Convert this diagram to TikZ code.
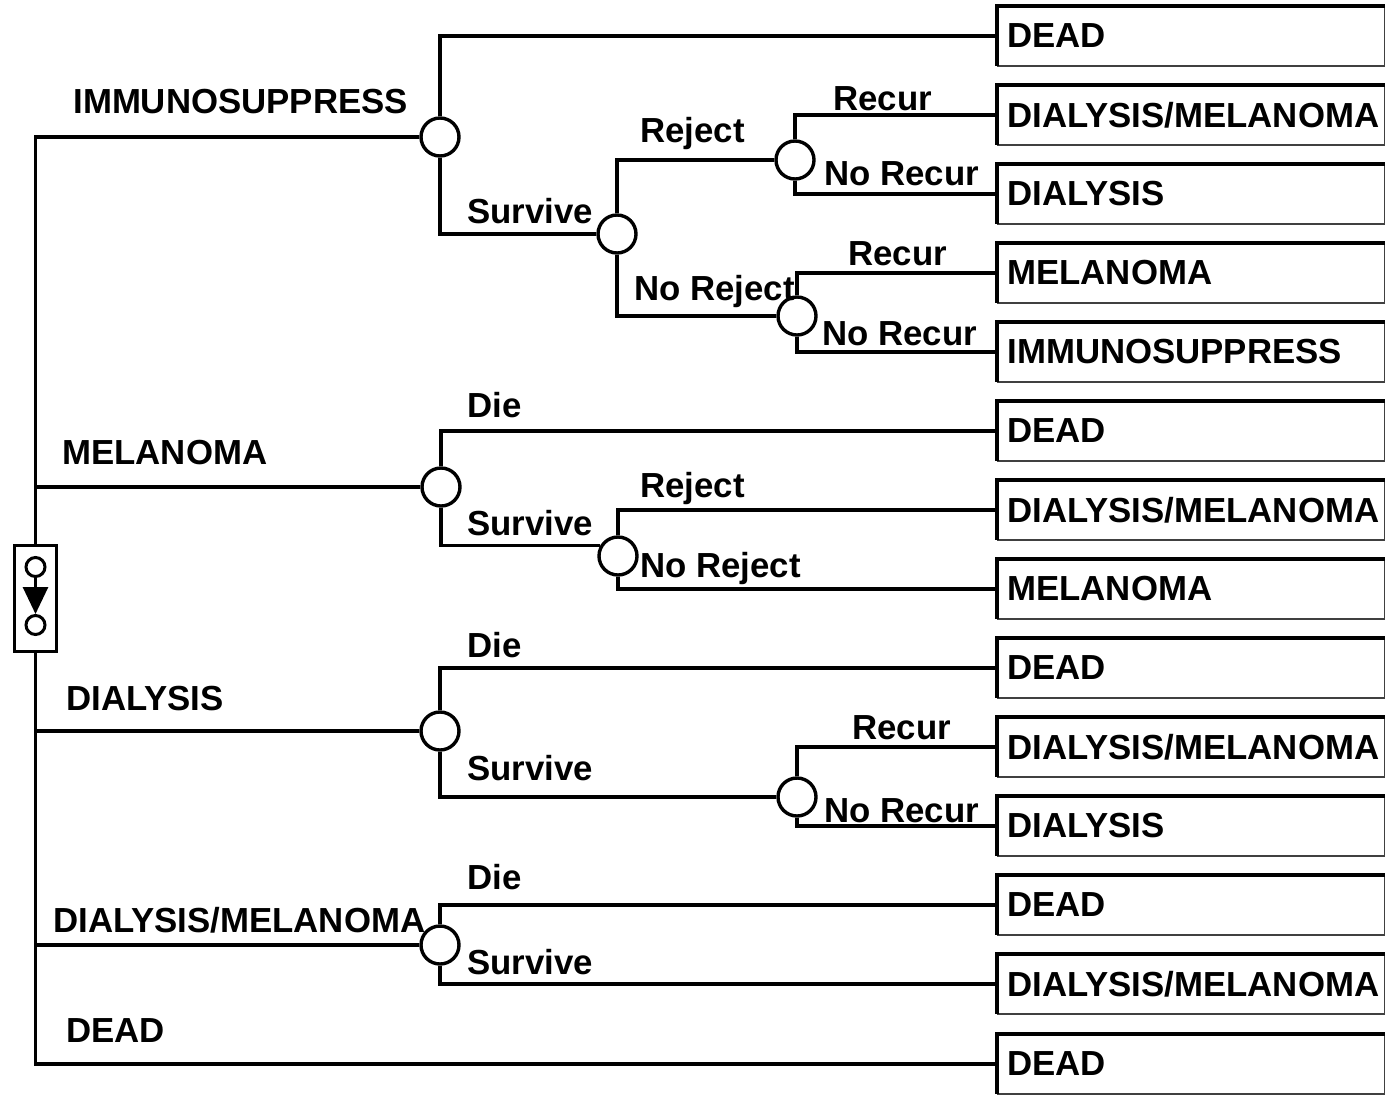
\documentclass[tikz,border=0pt]{standalone}
\usepackage{fontspec}
\setmainfont{Liberation Sans}
\usetikzlibrary{arrows.meta}
\newcommand{\dialmel}{DIALYSIS/MELANOMA}

\begin{document}
\begin{tikzpicture}[x=0.2mm,y=-0.2mm,
    every node/.style={font=\bfseries\fontsize{19.8}{23}\selectfont},
    branch/.style={line width=0.68mm},
    chance/.style={circle,draw,line width=0.68mm,fill=white,minimum size=7.6mm,inner sep=0pt},
    mstate/.style={circle,draw,line width=0.6mm,fill=white,minimum size=3.8mm,inner sep=0pt},
    lbl/.style={anchor=base west,inner sep=0pt},
    term/.style={anchor=west,minimum height=11.8mm,text width=73.4mm,inner xsep=2mm,inner ysep=0pt,align=left}]
    \useasboundingbox (0,0) rectangle (1386,1095);

    \foreach \y/\txt [count=\i] in {36/DEAD,115/\dialmel,194/DIALYSIS,273/MELANOMA,352/IMMUNOSUPPRESS,
        431/DEAD,510/\dialmel,589/MELANOMA,668/DEAD,747/\dialmel,826/DIALYSIS,905/DEAD,984/\dialmel,1064/DEAD}
    {
        \node[term] (t\i) at (997,\y) {\txt};
        \draw[line width=0.3mm,black!75] (t\i.north east) -- (t\i.south east) -- (t\i.south west);
        \draw[line width=0.68mm] (t\i.south west) -- (t\i.north west) -- (t\i.north east);
    }

    \node[chance] (imm) at (440,137) {};
    \node[chance] (imms) at (617,234) {};
    \node[chance] (immrj) at (795,160) {};
    \node[chance] (immnr) at (797,316) {};
    \node[chance] (mel) at (441,487) {};
    \node[chance] (mels) at (618,556) {};
    \node[chance] (dial) at (440,731) {};
    \node[chance] (dials) at (797,797) {};
    \node[chance] (dm) at (440,945) {};

    \node[draw,fill=white,line width=0.68mm,minimum width=8.4mm,minimum height=21.2mm,inner sep=0pt] (mk) at (35.5,598.5) {};
    \node[mstate] (mk1) at (35.5,567) {};
    \node[mstate] (mk2) at (35.5,625) {};
    \draw[line width=0.55mm,-{Triangle[length=5.4mm,width=5mm]}] (mk1) -- (mk2);

    \draw[branch] (imm) -| (mk.north);
    \draw[branch] (mk.south) |- (t14);
    \draw[branch] (mel) -- (mel -| mk.north);
    \draw[branch] (dial) -- (dial -| mk.north);
    \draw[branch] (dm) -- (dm -| mk.north);

    \draw[branch] (imm.north) |- (t1);
    \draw[branch] (imm.south) |- (imms);
    \draw[branch] (imms.north) |- (immrj);
    \draw[branch] (imms.south) |- (immnr);
    \draw[branch] (immrj.north) |- (t2);
    \draw[branch] (immrj.south) |- (t3);
    \draw[branch] (immnr.north) |- (t4);
    \draw[branch] (immnr.south) |- (t5);
    \draw[branch] (mel.north) |- (t6);
    \draw[branch] (mel.south) |- (mels.150);
    \draw[branch] (mels.north) |- (t7);
    \draw[branch] (mels.south) |- (t8);
    \draw[branch] (dial.north) |- (t9);
    \draw[branch] (dial.south) |- (dials);
    \draw[branch] (dials.north) |- (t10);
    \draw[branch] (dials.south) |- (t11);
    \draw[branch] (dm.north) |- (t12);
    \draw[branch] (dm.south) |- (t13);

    \node[lbl] (limm) at (73,113) {IMMUNOSUPPRESS};
    \node[lbl] (lmel) at (62,464) {MELANOMA};
    \node[lbl] (ldial) at (66,710) {DIALYSIS};
    \node[lbl] (ldm) at (53,932) {\dialmel};
    \node[lbl] (ldead) at (66,1042) {DEAD};

    \node[lbl] (simm) at (467,223) {Survive};
    \node[lbl] (rimm) at (640,142) {Reject};
    \node[lbl] (nrimm) at (634,300) {No Reject};
    \node[lbl] (rc1) at (833,110) {Recur};
    \node[lbl] (nrc1) at (824,185) {No Recur};
    \node[lbl] (rc2) at (848,265) {Recur};
    \node[lbl] (nrc2) at (822,345) {No Recur};
    \node[lbl] (dmel) at (467,417) {Die};
    \node[lbl] (smel) at (467,535) {Survive};
    \node[lbl] (rmel) at (640,497) {Reject};
    \node[lbl] (nrmel) at (640,577) {No Reject};
    \node[lbl] (ddial) at (467,657) {Die};
    \node[lbl] (sdial) at (467,780) {Survive};
    \node[lbl] (rc3) at (852,739) {Recur};
    \node[lbl] (nrc3) at (824,822) {No Recur};
    \node[lbl] (ddm) at (467,889) {Die};
    \node[lbl] (sdm) at (467,974) {Survive};
\end{tikzpicture}
\end{document}
